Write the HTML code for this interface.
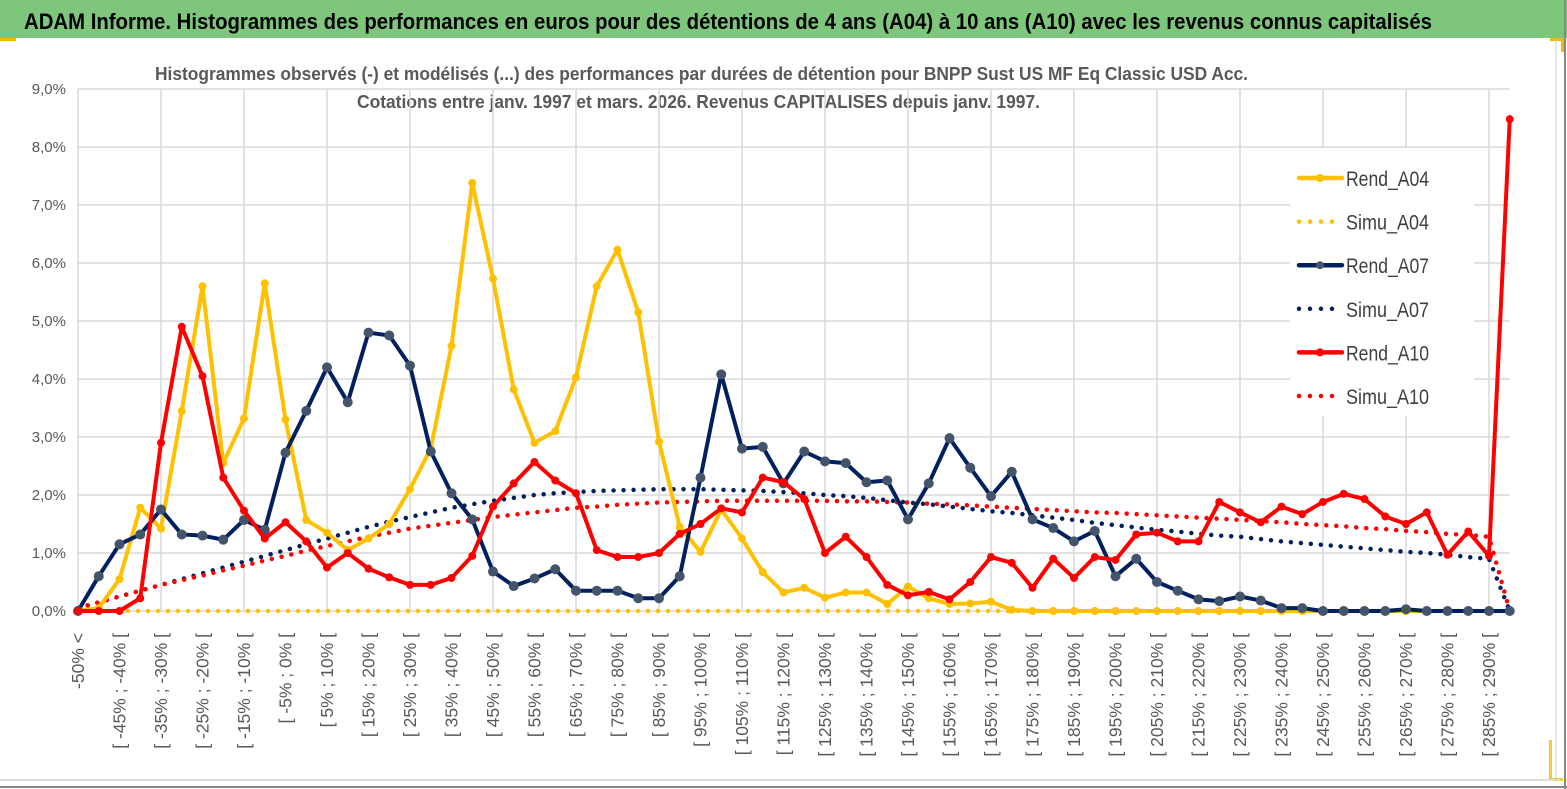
<!DOCTYPE html>
<html><head><meta charset="utf-8"><style>
html,body{margin:0;padding:0;background:#fff;}
svg{display:block;font-family:"Liberation Sans",sans-serif;}
</style></head><body>
<svg width="1567" height="789" viewBox="0 0 1567 789">
<rect x="0" y="0" width="1567" height="789" fill="#fff"/>
<rect x="0" y="0" width="1567" height="38" fill="#7dc67c"/>
<rect x="0" y="38" width="16" height="3" fill="#f5b800"/>
<rect x="1550" y="38" width="14" height="3" fill="#f5b800"/>
<rect x="1561" y="38" width="3" height="14" fill="#f5b800"/>
<rect x="1549" y="740" width="3" height="40" fill="#f5c842"/>
<rect x="1549" y="778" width="14" height="3" fill="#f5c842"/>
<line x1="0" y1="780" x2="1560" y2="780" stroke="#ddd" stroke-width="2"/>
<line x1="1556" y1="40" x2="1556" y2="781" stroke="#ccc" stroke-width="1"/>
<line x1="0" y1="787" x2="1567" y2="787" stroke="#888" stroke-width="2"/>
<line x1="1565" y1="0" x2="1565" y2="789" stroke="#888" stroke-width="2"/>
<text x="24" y="29" font-size="22" font-weight="bold" fill="#000" textLength="1408" lengthAdjust="spacingAndGlyphs">ADAM Informe. Histogrammes des performances en euros pour des détentions de 4 ans (A04) à 10 ans (A10) avec les revenus connus capitalisés</text>
<text x="155" y="80" font-size="18" font-weight="bold" fill="#595959" textLength="1093" lengthAdjust="spacingAndGlyphs">Histogrammes observés (-) et modélisés (...) des performances par durées de détention pour BNPP Sust US MF Eq Classic USD Acc.</text>
<text x="357" y="108" font-size="18" font-weight="bold" fill="#595959" textLength="683" lengthAdjust="spacingAndGlyphs">Cotations entre janv. 1997 et mars. 2026. Revenus CAPITALISES depuis janv. 1997.</text>
<g id="grid"></g>
<g id="ylabels"></g>
<g id="xlabels"></g>
<g id="series"></g>
<g id="legend"></g>
</svg>
<script>
const NS="http://www.w3.org/2000/svg";
const yTicks=["0,0%","1,0%","2,0%","3,0%","4,0%","5,0%","6,0%","7,0%","8,0%","9,0%"];
const rendA04=[0,0.05,0.55,1.78,1.42,3.45,5.6,2.55,3.32,5.65,3.3,1.57,1.35,1.05,1.25,1.5,2.1,2.8,4.57,7.38,5.73,3.82,2.9,3.1,4.03,5.6,6.23,5.15,2.92,1.45,1.02,1.75,1.25,0.67,0.32,0.4,0.23,0.32,0.32,0.12,0.42,0.22,0.12,0.13,0.16,0.02,0,0,0,0,0,0,0,0,0,0,0,0,0,0,0,0,0,0,0,0,0,0,0,0];
const simuA04=[0,0,0,0,0,0,0,0,0,0,0,0,0,0,0,0,0,0,0,0,0,0,0,0,0,0,0,0,0,0,0,0,0,0,0,0,0,0,0,0,0,0,0,0,0,0,0,0,0,0,0,0,0,0,0,0,0,0,0,0,0,0,0,0,0,0,0,0,0,0];
const rendA07=[0,0.6,1.15,1.32,1.75,1.32,1.3,1.23,1.57,1.4,2.73,3.45,4.2,3.6,4.8,4.75,4.23,2.75,2.03,1.58,0.68,0.43,0.56,0.72,0.35,0.35,0.35,0.22,0.22,0.6,2.3,4.08,2.8,2.83,2.2,2.75,2.58,2.55,2.22,2.25,1.58,2.2,2.98,2.47,1.98,2.4,1.58,1.43,1.2,1.38,0.6,0.9,0.5,0.35,0.2,0.17,0.25,0.18,0.05,0.05,0,0,0,0,0.03,0,0,0,0,0];
const simuA07=[0.05,0.15,0.25,0.35,0.45,0.55,0.65,0.75,0.85,0.95,1.05,1.15,1.25,1.35,1.45,1.54,1.62,1.7,1.78,1.84,1.9,1.95,2.0,2.03,2.05,2.07,2.08,2.09,2.1,2.1,2.1,2.09,2.08,2.07,2.05,2.03,2.0,1.98,1.95,1.91,1.87,1.84,1.8,1.76,1.72,1.69,1.65,1.61,1.57,1.52,1.48,1.44,1.4,1.37,1.33,1.3,1.28,1.24,1.2,1.17,1.14,1.11,1.08,1.05,1.02,1.0,0.97,0.93,0.9,0];
const rendA10=[0,0,0,0.22,2.9,4.9,4.05,2.3,1.73,1.25,1.53,1.2,0.75,1.0,0.73,0.58,0.45,0.45,0.57,0.95,1.8,2.2,2.57,2.25,2.03,1.05,0.93,0.93,1.0,1.33,1.5,1.77,1.7,2.3,2.22,1.93,1.0,1.28,0.93,0.45,0.27,0.33,0.2,0.5,0.93,0.83,0.4,0.9,0.57,0.93,0.88,1.32,1.35,1.2,1.2,1.88,1.7,1.53,1.8,1.67,1.88,2.02,1.93,1.63,1.5,1.7,0.97,1.37,0.95,8.48];
const simuA10=[0.05,0.15,0.25,0.35,0.45,0.53,0.61,0.7,0.78,0.87,0.95,1.04,1.12,1.2,1.28,1.35,1.42,1.47,1.52,1.57,1.62,1.66,1.7,1.74,1.78,1.8,1.83,1.85,1.87,1.88,1.89,1.9,1.9,1.9,1.9,1.9,1.9,1.89,1.89,1.88,1.87,1.85,1.84,1.82,1.8,1.78,1.76,1.74,1.72,1.7,1.69,1.67,1.65,1.63,1.61,1.59,1.57,1.55,1.53,1.5,1.48,1.46,1.43,1.41,1.38,1.36,1.33,1.31,1.28,0];
const categories=["-50% <"];
for(let k=1;k<70;k++){const a=-50+5*(k-1);categories.push("[ "+a+"% ; "+(a+5)+"% [");}

const x0=78,dx=20.75,y0=611,py=58;
function X(i){return x0+dx*i;}
function Y(v){return y0-py*v;}
function mk(tag,attrs,parent){const e=document.createElementNS(NS,tag);for(const k in attrs)e.setAttribute(k,attrs[k]);parent.appendChild(e);return e;}

const grid=document.getElementById('grid');
for(let t=0;t<yTicks.length;t++){
  const l=mk('line',{x1:X(0),x2:X(69),y1:Y(t),y2:Y(t),stroke:'#d9d9d9','stroke-width':1.5},grid);
  
  
}
for(let i=0;i<70;i+=4){
  const l=mk('line',{x1:X(i),x2:X(i),y1:Y(9),y2:Y(0),stroke:'#d9d9d9','stroke-width':1.5},grid);
  
  
}
const yl=document.getElementById('ylabels');
yTicks.forEach((s,t)=>{
  const e=mk('text',{x:66,y:Y(t)+5,'font-size':15,fill:'#595959','text-anchor':'end'},yl);
  e.textContent=s;
  
  
});
const xl=document.getElementById('xlabels');
for(let i=0;i<70;i+=2){
  const e=mk('text',{transform:'translate('+(X(i)+6)+',633) rotate(-90)','font-size':17.5,fill:'#595959','text-anchor':'end'},xl);
  e.textContent=categories[i];
  
  
}
const ser=document.getElementById('series');
function pts(a){return a.map((v,i)=>X(i)+','+Y(v)).join(' ');}
function dotted(a,color,name){
  const p=mk('polyline',{points:pts(a),fill:'none',stroke:color,'stroke-width':4.5,'stroke-linecap':'round','stroke-dasharray':'0 10'},ser);
  
  
}
function solid(a,color,mcolor,r,name){
  const g=mk('g',{},ser);
  
  
  mk('polyline',{points:pts(a),fill:'none',stroke:color,'stroke-width':4,'stroke-linejoin':'round'},g);
  a.forEach((v,i)=>{
    const c=mk('circle',{cx:X(i),cy:Y(v),r:r,fill:mcolor},g);
    
    
  });
}
dotted(simuA04,'#ffc000','simu-a04-line');
dotted(simuA07,'#002060','simu-a07-line');
dotted(simuA10,'#ff0000','simu-a10-line');
solid(rendA04,'#ffc000','#ffc000',4,'rend-a04-line');
solid(rendA07,'#002060','#44546a',5,'rend-a07-line');
solid(rendA10,'#ff0000','#ff0000',4,'rend-a10-line');

const lg=document.getElementById('legend');
mk('rect',{x:1290,y:148,width:184,height:268,fill:'#fff'},lg);
const items=[["Rend_A04","#ffc000","s","#ffc000"],["Simu_A04","#ffc000","d"],["Rend_A07","#002060","s","#44546a"],["Simu_A07","#002060","d"],["Rend_A10","#ff0000","s","#ff0000"],["Simu_A10","#ff0000","d"]];
items.forEach((it,k)=>{
  const y=178+43.6*k;
  const g=mk('g',{},lg);
  
  
  if(it[2]==='s'){
    mk('line',{x1:1299,x2:1342,y1:y,y2:y,stroke:it[1],'stroke-width':4.5,'stroke-linecap':'round'},g);
    mk('circle',{cx:1320,cy:y,r:4,fill:it[3]},g);
  } else {
    mk('line',{x1:1299,x2:1342,y1:y,y2:y,stroke:it[1],'stroke-width':4.5,'stroke-linecap':'round','stroke-dasharray':'0 11'},g);
  }
  const t=mk('text',{x:1346,y:y+8,'font-size':21,fill:'#404040',textLength:83,lengthAdjust:'spacingAndGlyphs'},g);
  t.textContent=it[0];
});
</script>
</body></html>
